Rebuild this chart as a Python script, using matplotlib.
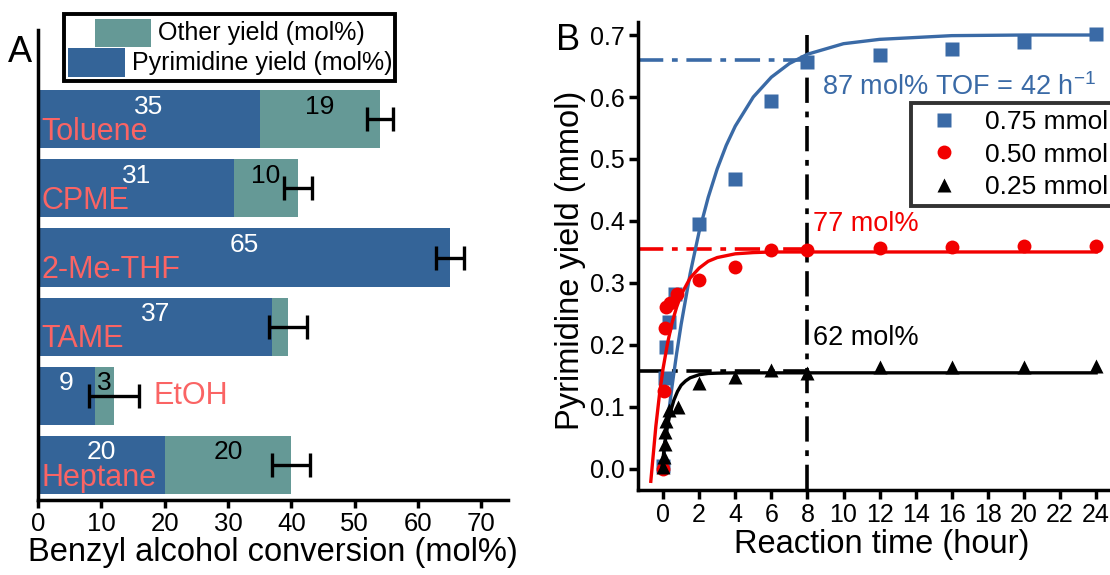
import numpy as np
import matplotlib
matplotlib.use('Agg')
import matplotlib.pyplot as plt
from matplotlib.patches import Rectangle
from matplotlib.lines import Line2D

plt.rcParams['font.family'] = 'Liberation Sans'
plt.rcParams['mathtext.fontset'] = 'custom'
plt.rcParams['mathtext.rm'] = 'Liberation Sans'

# ---- panel A: solvent screening ----
solvents = ['Toluene', 'CPME', '2-Me-THF', 'TAME', 'EtOH', 'Heptane']
pyr_yield = [35, 31, 65, 37, 9, 20]
other_yield = [19, 10, 0, 2.4, 3, 20]
other_labels = ['19', '10', '', '', '3', '20']
conv_err = [2, 2.2, 2.2, 3, 4, 3]

# ---- panel B: yield vs time for three substrate loadings ----
t_075 = [0, 0.08, 0.17, 0.33, 0.67, 2, 4, 6, 8, 12, 16, 20, 24]
y_075 = [0.005, 0.147, 0.197, 0.237, 0.282, 0.395, 0.468, 0.593, 0.657, 0.667, 0.678, 0.688, 0.702]
t_050 = [0, 0.03, 0.08, 0.17, 0.4, 0.75, 2, 4, 6, 8, 12, 16, 20, 24]
y_050 = [0.0, 0.125, 0.228, 0.262, 0.268, 0.282, 0.305, 0.325, 0.353, 0.353, 0.357, 0.358, 0.36, 0.36]
t_025 = [0, 0.03, 0.08, 0.12, 0.17, 0.33, 0.85, 2, 4, 6, 8, 12, 16, 20, 24]
y_025 = [0.003, 0.02, 0.04, 0.06, 0.078, 0.095, 0.1, 0.138, 0.149, 0.159, 0.154, 0.164, 0.164, 0.165, 0.166]

# fitted curves (first-order growth), tabulated
fit_t_075 = [-0.05, 0.25, 0.5, 0.75, 1, 1.5, 2, 2.5, 3, 3.5, 4, 5, 6, 7, 8, 10, 12, 16, 20, 24]
fit_y_075 = [0, 0.077, 0.134, 0.186, 0.233, 0.315, 0.383, 0.438, 0.484, 0.522, 0.553, 0.600,
             0.632, 0.654, 0.669, 0.686, 0.693, 0.699, 0.700, 0.700]
fit_t_050 = [-0.68, -0.4, -0.2, 0, 0.25, 0.5, 0.75, 1, 1.5, 2, 2.5, 3, 4, 5, 6, 8, 24]
fit_y_050 = [-0.02, 0.069, 0.120, 0.162, 0.203, 0.236, 0.261, 0.281, 0.308, 0.324, 0.335,
             0.341, 0.347, 0.349, 0.350, 0.350, 0.350]
fit_t_025 = [-0.07, 0.1, 0.25, 0.4, 0.6, 0.8, 1, 1.25, 1.5, 2, 2.5, 3, 4, 24]
fit_y_025 = [0, 0.043, 0.070, 0.091, 0.111, 0.125, 0.135, 0.142, 0.147, 0.152, 0.154, 0.1545, 0.155, 0.155]

# yield level at 8 h for each loading
lvl_075, lvl_050, lvl_025 = 0.66, 0.355, 0.158
t_mark = 8

bar_blue = '#346498'
bar_teal = '#659996'
name_col = '#FA6464'
blue = '#3A6AA6'
red = '#F20000'

W, H = 1110, 575


def fpos(x, y):
    return x / W, 1 - y / H


fig = plt.figure(figsize=(W / 100, H / 100), dpi=100)

# ================= A =================
axA = fig.add_axes([38 / W, 1 - 500 / H, 470 / W, 470 / H])
pos = np.arange(len(solvents))[::-1]
total = np.array(pyr_yield) + np.array(other_yield)
axA.barh(pos, pyr_yield, height=0.84, color=bar_blue)
axA.barh(pos, other_yield, left=pyr_yield, height=0.84, color=bar_teal)
axA.errorbar(total, pos, xerr=conv_err, fmt='none', ecolor='k', elinewidth=2.4,
             capsize=8.6, capthick=2.4, zorder=4)

for i, p in enumerate(pos):
    axA.text(pyr_yield[i] / 2, p + 0.08, str(pyr_yield[i]), color='white',
             ha='center', va='baseline', fontsize=19)
    if other_labels[i]:
        axA.text(pyr_yield[i] + other_yield[i] / 2, p + 0.08, other_labels[i],
                 color='k', ha='center', va='baseline', fontsize=19)
    if total[i] < 15:
        axA.text(total[i] + conv_err[i] + 2.2, p - 0.12, solvents[i], color=name_col,
                 ha='left', va='baseline', fontsize=22)
    else:
        axA.text(0.5, p - 0.30, solvents[i], color=name_col,
                 ha='left', va='baseline', fontsize=22)

axA.set_xlim(0, 74.2)
axA.set_ylim(-0.506, 6.29)
axA.set_xticks(range(0, 80, 10))
axA.set_yticks([])
for s in ['top', 'right']:
    axA.spines[s].set_visible(False)
for s in ['left', 'bottom']:
    axA.spines[s].set_linewidth(2.5)
axA.tick_params(axis='x', direction='out', length=5.5, width=2.5, labelsize=18.5, pad=3)
axA.set_xlabel('Benzyl alcohol conversion (mol%)', fontsize=23.5, labelpad=1)

# hand-built legend for A
lx0, ly0 = fpos(64, 81)
lx1, ly1 = fpos(395, 14)
fig.add_artist(Rectangle((lx0, ly0), lx1 - lx0, ly1 - ly0, transform=fig.transFigure,
                         fill=False, edgecolor='k', linewidth=2.8))
px0, py0 = fpos(95, 47)
px1, py1 = fpos(151, 19)
fig.add_artist(Rectangle((px0, py0), px1 - px0, py1 - py0, transform=fig.transFigure,
                         facecolor=bar_teal, edgecolor='none'))
px0, py0 = fpos(68, 77)
px1, py1 = fpos(125, 48)
fig.add_artist(Rectangle((px0, py0), px1 - px0, py1 - py0, transform=fig.transFigure,
                         facecolor=bar_blue, edgecolor='none'))
fig.text(*fpos(158, 33), 'Other yield (mol%)', fontsize=18, va='center', ha='left')
fig.text(*fpos(132, 63), 'Pyrimidine yield (mol%)', fontsize=18, va='center', ha='left')
fig.text(*fpos(8, 53), 'A', fontsize=26, va='center', ha='left')

# ================= B =================
axB = fig.add_axes([638 / W, 1 - 490 / H, (1125 - 638) / W, 468 / H])
dd = (7, 2.4, 1.6, 2.4)

axB.plot([-1.39, t_mark], [lvl_075, lvl_075], color=blue, lw=2.6, dashes=dd)
axB.plot([-1.39, t_mark], [lvl_050, lvl_050], color=red, lw=2.6, dashes=dd)
axB.plot([-1.39, t_mark], [lvl_025, lvl_025], color='k', lw=2.6, dashes=dd)
axB.plot([t_mark, t_mark], [-0.034, 0.70], color='k', lw=2.6, dashes=dd)

axB.plot(fit_t_075, fit_y_075, color=blue, lw=2.4)
axB.plot(t_075, y_075, 's', color=blue, ms=9.5, mec='none')
axB.plot(fit_t_050, fit_y_050, color=red, lw=2.4)
axB.plot(t_050, y_050, 'o', color=red, ms=10, mec='none')
axB.plot(fit_t_025, fit_y_025, color='k', lw=2.4)
axB.plot(t_025, y_025, '^', color='k', ms=10, mec='none')

axB.text(8.8, 0.616, r'87 mol% TOF = 42 $\mathregular{h^{-1}}$', color=blue,
         fontsize=19.5, va='center', ha='left')
axB.text(8.3, 0.395, '77 mol%', color=red, fontsize=19.5, va='center', ha='left')
axB.text(8.3, 0.211, '62 mol%', color='k', fontsize=19.5, va='center', ha='left')

axB.set_xlim(-1.39, 25.6)
axB.set_ylim(-0.034, 0.721)
axB.set_xticks(range(0, 26, 2))
axB.set_yticks(np.arange(0, 0.71, 0.1))
axB.set_yticklabels(['%.1f' % v for v in np.arange(0, 0.71, 0.1)])
for s in ['top', 'right']:
    axB.spines[s].set_visible(False)
for s in ['left', 'bottom']:
    axB.spines[s].set_linewidth(2.5)
axB.tick_params(direction='out', length=6.5, width=2.5, labelsize=18, pad=3)
axB.set_xlabel('Reaction time (hour)', fontsize=23.5, labelpad=1)
axB.set_ylabel('Pyrimidine yield (mmol)', fontsize=23.5)
axB.yaxis.set_label_coords(-0.107, 0.491)

handles = [Line2D([], [], ls='none', marker='s', color=blue, ms=9.5, mec='none'),
           Line2D([], [], ls='none', marker='o', color=red, ms=10, mec='none'),
           Line2D([], [], ls='none', marker='^', color='k', ms=10, mec='none')]
leg = axB.legend(handles, ['0.75 mmol', '0.50 mmol', '0.25 mmol'], loc='upper left',
                 bbox_to_anchor=fpos(911, 103), bbox_transform=fig.transFigure,
                 fontsize=19, frameon=True, fancybox=False, borderaxespad=0,
                 handlelength=1.97, handletextpad=0.57, labelspacing=0.32, borderpad=0.27)
leg.get_frame().set_edgecolor('k')
leg.get_frame().set_linewidth(2.8)
fig.text(*fpos(556, 40), 'B', fontsize=26, va='center', ha='left')

fig.savefig('out.png', dpi=100)
